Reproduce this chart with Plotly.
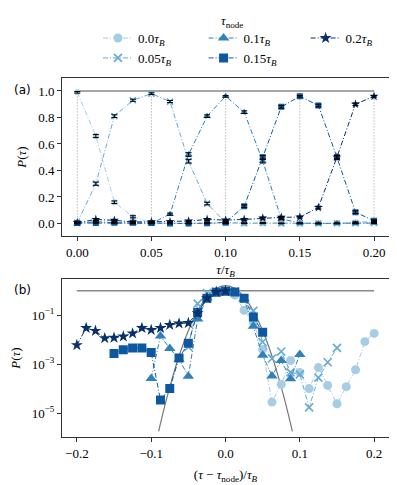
import plotly.graph_objects as go

# sampled tau values (units of tau_B)
tau = [0.0, 0.0125, 0.025, 0.0375, 0.05, 0.0625, 0.075, 0.0875, 0.1,
       0.1125, 0.125, 0.1375, 0.15, 0.1625, 0.175, 0.1875, 0.2]
tau_nodes = [0.0, 0.05, 0.1, 0.15, 0.2]
labels = ["0.0<i>τ<sub>B</sub></i>", "0.05<i>τ<sub>B</sub></i>", "0.1<i>τ<sub>B</sub></i>",
          "0.15<i>τ<sub>B</sub></i>", "0.2<i>τ<sub>B</sub></i>"]

# P(tau) for each tau_node
p_000 = [0.99, 0.66, 0.16, 0.05, 0.004, 2.8e-5, 1.5e-4, 1.4e-3, 4.5e-4, 1.0e-4,
         7.2e-4, 1.35e-4, 2.4e-5, 1.2e-4, 5.9e-4, 8.3e-3, 1.8e-2]
p_005 = [0.005, 0.30, 0.81, 0.93, 0.98, 0.92, 0.47, 0.15, 0.008, 1.7e-3,
         3.3e-3, 4.6e-4, 3.8e-4, 1.7e-5, 2.8e-4, 1.2e-3, 4.6e-3]
p_010 = [2.6e-4, 0.014, 4.4e-3, 1.6e-3, 3.2e-4, 0.07, 0.52, 0.81, 0.96, 0.84,
         0.47, 0.035, 2.3e-3, 3.3e-4, 1.4e-3, 2.5e-4, 2.5e-3]
p_015 = [2.7e-3, 3.9e-3, 4.6e-3, 4.6e-3, 3.0e-3, 3.4e-5, 1.0e-4, 1.8e-3, 7.1e-3,
         0.13, 0.50, 0.88, 0.96, 0.89, 0.50, 0.085, 0.02]
p_020 = [0.006, 0.030, 0.023, 0.0115, 0.012, 0.0135, 0.018, 0.030, 0.025, 0.030,
         0.040, 0.046, 0.048, 0.12, 0.50, 0.90, 0.96]

# error bars for panel (a)
err_000 = [0.006, 0.012, 0.010, 0.008, 0.004, 0.002, 0.002, 0.003, 0.002, 0.002,
           0.002, 0.002, 0.002, 0.002, 0.002, 0.004, 0.006]
err_005 = [0.004, 0.012, 0.010, 0.008, 0.006, 0.008, 0.014, 0.010, 0.004, 0.002,
           0.003, 0.002, 0.002, 0.002, 0.002, 0.002, 0.004]
err_010 = [0.002, 0.005, 0.004, 0.003, 0.002, 0.008, 0.014, 0.010, 0.006, 0.010,
           0.014, 0.008, 0.003, 0.002, 0.002, 0.002, 0.003]
err_015 = [0.003, 0.003, 0.004, 0.004, 0.003, 0.002, 0.002, 0.003, 0.004, 0.010,
           0.014, 0.010, 0.006, 0.010, 0.014, 0.010, 0.006]
err_020 = [0.004, 0.006, 0.005, 0.004, 0.004, 0.004, 0.005, 0.006, 0.005, 0.006,
           0.007, 0.007, 0.007, 0.010, 0.014, 0.010, 0.006]

# gray reference curve in panel (b)
ref_x = [-0.09, -0.08, -0.07, -0.06, -0.05, -0.04, -0.03, -0.02, -0.01, 0.0,
         0.01, 0.02, 0.03, 0.04, 0.05, 0.06, 0.07, 0.08, 0.09]
ref_y = [1.76e-6, 3.14e-5, 3.99e-4, 3.61e-3, 0.0233, 0.107, 0.351, 0.818, 1.36, 1.61,
         1.36, 0.818, 0.351, 0.107, 0.0233, 3.61e-3, 3.99e-4, 3.14e-5, 1.76e-6]

series = [p_000, p_005, p_010, p_015, p_020]
errors = [err_000, err_005, err_010, err_015, err_020]
colors = ["#a6cde4", "#66aad4", "#2f80bd", "#0e57a1", "#08306b"]
symbols = ["circle", "x-thin", "triangle-up", "square", "star"]
sizes_b = [9, 8, 10, 9, 9]
sizes_a = [6, 6, 7, 6, 7]
legend_of = ["legend", "legend", "legend2", "legend2", "legend3"]  # legend columns

FONT = "Liberation Serif, DejaVu Serif, serif"
DASH = "5px,2px,1px,2px"

fig = go.Figure()

# reference lines in (a)
for tn in tau_nodes:
    fig.add_trace(go.Scatter(x=[tn, tn], y=[0, 1], mode="lines", showlegend=False,
                             line=dict(color="#999999", width=1, dash="1px,2px"),
                             xaxis="x", yaxis="y", hoverinfo="skip"))
fig.add_trace(go.Scatter(x=[tau_nodes[0], tau_nodes[-1]], y=[1, 1], mode="lines",
                         showlegend=False, line=dict(color="#888888", width=1.3),
                         xaxis="x", yaxis="y", hoverinfo="skip"))

# reference lines in (b)
fig.add_trace(go.Scatter(x=[-0.2, 0.2], y=[1, 1], mode="lines", showlegend=False,
                         line=dict(color="#888888", width=1.3),
                         xaxis="x2", yaxis="y2", hoverinfo="skip"))
fig.add_trace(go.Scatter(x=ref_x, y=ref_y, mode="lines", showlegend=False,
                         line=dict(color="#777777", width=1.2, shape="spline"),
                         xaxis="x2", yaxis="y2", hoverinfo="skip"))

for i, tn in enumerate(tau_nodes):
    col = colors[i]
    mk_line = dict(color=col, width=1.6 if symbols[i] == "x-thin" else 0)
    # panel (a)
    fig.add_trace(go.Scatter(
        x=tau, y=series[i], mode="lines+markers", showlegend=False,
        line=dict(color=col, width=1, dash=DASH),
        marker=dict(symbol=symbols[i], size=sizes_a[i], color=col, line=mk_line),
        xaxis="x", yaxis="y"))
    # panel (b), shifted by tau_node
    fig.add_trace(go.Scatter(
        x=[t - tn for t in tau], y=series[i], mode="lines+markers",
        name=labels[i], legend=legend_of[i],
        line=dict(color=col, width=1, dash=DASH),
        marker=dict(symbol=symbols[i], size=sizes_b[i], color=col, line=mk_line),
        xaxis="x2", yaxis="y2"))

# black error bars drawn on top of the markers in (a)
for i in range(len(tau_nodes)):
    fig.add_trace(go.Scatter(
        x=tau, y=series[i], mode="markers", showlegend=False,
        marker=dict(size=1, color="rgba(0,0,0,0)"),
        error_y=dict(type="data", array=errors[i], color="black", thickness=1, width=3),
        xaxis="x", yaxis="y", hoverinfo="skip"))

axis_common = dict(showgrid=False, zeroline=False, showline=True, mirror=True,
                   linecolor="#333333", linewidth=1, ticks="outside", ticklen=4,
                   tickcolor="#333333", automargin=False,
                   tickfont=dict(family=FONT, size=13, color="black"))

legend_common = dict(orientation="v", xanchor="left", y=1.153, yanchor="top",
                     font=dict(family=FONT, size=13), bgcolor="rgba(0,0,0,0)",
                     tracegroupgap=0, itemwidth=30)

# the page body adds an 8px offset, so the figure is 8px smaller on each side
fig.update_layout(
    width=389, height=477,
    margin=dict(l=54, r=8, t=70, b=48),
    paper_bgcolor="white", plot_bgcolor="white",
    font=dict(family=FONT, size=13, color="black"),
    xaxis=dict(domain=[0, 1], anchor="y", range=[-0.0103, 0.2101],
               tickvals=[0.0, 0.05, 0.1, 0.15, 0.2], tickformat=".2f",
               title=dict(text="<i>τ</i>/<i>τ<sub>B</sub></i>", standoff=6,
                          font=dict(family=FONT, size=13)),
               **axis_common),
    yaxis=dict(domain=[0.5595, 1], anchor="x", range=[-0.096, 1.098],
               tickvals=[0, 0.2, 0.4, 0.6, 0.8, 1.0], tickformat=".1f",
               title=dict(text="<i>P</i>(<i>τ</i>)", standoff=8,
                          font=dict(family=FONT, size=13)),
               **axis_common),
    xaxis2=dict(domain=[0, 1], anchor="y2", range=[-0.22, 0.22],
                tickvals=[-0.2, -0.1, 0.0, 0.1, 0.2], tickformat=".1f",
                title=dict(text="(<i>τ</i> − <i>τ</i><sub>node</sub>)/<i>τ<sub>B</sub></i>",
                           standoff=10, font=dict(family=FONT, size=13)),
                **axis_common),
    yaxis2=dict(domain=[0, 0.4396], anchor="x2", type="log", range=[-5.98, 0.474],
                tickvals=[1e-5, 1e-3, 1e-1],
                ticktext=["10<sup>−5</sup>", "10<sup>−3</sup>", "10<sup>−1</sup>"],
                title=dict(text="<i>P</i>(<i>τ</i>)", standoff=8,
                           font=dict(family=FONT, size=13)),
                **axis_common),
    legend=dict(x=0.11, **legend_common),
    legend2=dict(x=0.433, **legend_common),
    legend3=dict(x=0.745, **legend_common),
    annotations=[
        dict(text="<i>τ</i><sub>node</sub>", xref="paper", yref="paper", x=0.52, y=1.156,
             xanchor="center", yanchor="middle", showarrow=False,
             font=dict(family=FONT, size=13)),
        dict(text="(a)", xref="paper", yref="paper", x=-0.122, y=0.9666,
             xanchor="center", yanchor="middle", showarrow=False,
             font=dict(family="DejaVu Sans", size=12)),
        dict(text="(b)", xref="paper", yref="paper", x=-0.122, y=0.409,
             xanchor="center", yanchor="middle", showarrow=False,
             font=dict(family="DejaVu Sans", size=12)),
    ],
)

fig.write_html("out.html")
